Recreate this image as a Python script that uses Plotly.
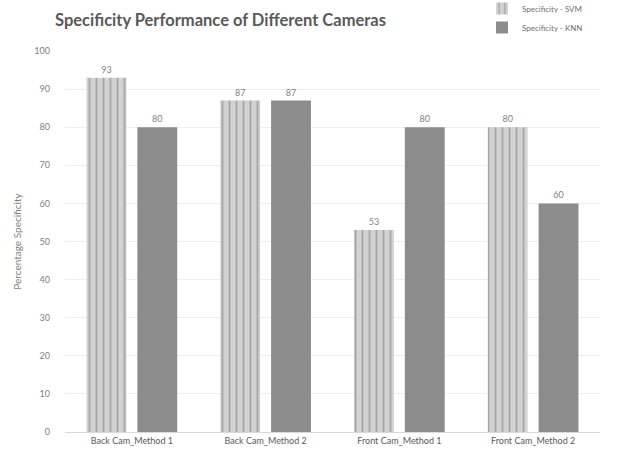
import plotly.graph_objects as go

categories = ["Back Cam_Method 1", "Back Cam_Method 2", "Front Cam_Method 1", "Front Cam_Method 2"]
svm_values = [93, 87, 53, 80]
knn_values = [80, 87, 80, 60]
y_ticks = list(range(0, 101, 10))

FONT = "Lato, 'Open Sans', sans-serif"
TEXT_GREY = "#7f7f7f"

ML, MR, MT, MB = 65, 25, 51, 24
W, H = 625, 456
PW, PH = W - ML - MR, H - MT - MB

fig = go.Figure()

fig.add_trace(go.Bar(
    name="Specificity - SVM",
    x=categories,
    y=svm_values,
    text=[str(v) for v in svm_values],
    textposition="outside",
    textfont=dict(size=9, color=TEXT_GREY, family=FONT),
    cliponaxis=False,
    marker=dict(
        color="#cfcfcf",
        line=dict(width=0),
        pattern=dict(shape="|", fgcolor="#a6a6a6", bgcolor="#d2d2d2",
                     size=7, solidity=0.25, fillmode="replace"),
    ),
))

fig.add_trace(go.Bar(
    name="Specificity - KNN",
    x=categories,
    y=knn_values,
    text=[str(v) for v in knn_values],
    textposition="outside",
    textfont=dict(size=9, color=TEXT_GREY, family=FONT),
    cliponaxis=False,
    marker=dict(color="#8c8c8c", line=dict(width=0)),
))

fig.update_layout(
    width=W,
    height=H,
    margin=dict(l=ML, r=MR, t=MT, b=MB, autoexpand=False),
    paper_bgcolor="white",
    plot_bgcolor="white",
    barmode="group",
    bargap=0.24,
    bargroupgap=0.216,
    font=dict(family=FONT, color=TEXT_GREY, size=9),
    showlegend=True,
    legend=dict(
        x=(482 - ML) / PW, y=1 + (MT + 6) / PH, xanchor="left", yanchor="top",
        font=dict(size=8, color="#6f6f6f", family=FONT),
        bgcolor="rgba(0,0,0,0)",
        tracegroupgap=0,
    ),
    annotations=[
        dict(
            text="<b>Specificity Performance of Different Cameras</b>",
            x=(220 - ML) / PW, y=1 + (MT - 20) / PH,
            xref="paper", yref="paper",
            xanchor="center", yanchor="middle",
            showarrow=False,
            font=dict(size=16.5, color="#595959", family=FONT),
        ),
    ],
)

fig.update_xaxes(
    showgrid=False,
    showline=True,
    linecolor="#d9d9d9",
    linewidth=1,
    ticks="",
    tickfont=dict(size=9, color="#595959", family=FONT),
)

fig.update_yaxes(
    range=[0, 100],
    tickvals=y_ticks,
    showgrid=True,
    gridcolor="#eeeeee",
    gridwidth=1,
    zeroline=False,
    showline=False,
    ticks="",
    ticklabelstandoff=14,
    tickfont=dict(size=9, color=TEXT_GREY, family=FONT),
    title=dict(text="Percentage Specificity", font=dict(size=10, color=TEXT_GREY, family=FONT), standoff=10),
)

fig.write_html("out.html")
